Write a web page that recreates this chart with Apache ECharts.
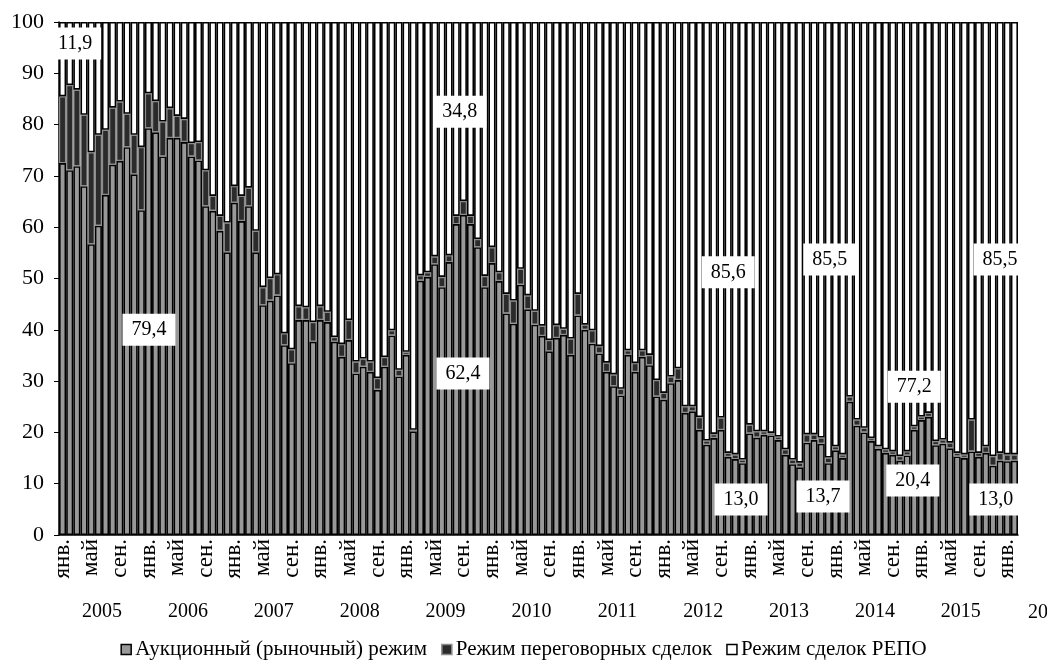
<!DOCTYPE html>
<html>
<head>
<meta charset="utf-8">
<script src="https://cdn.jsdelivr.net/npm/echarts@6/dist/echarts.min.js"></script>
<style>
  html, body { margin: 0; padding: 0; background: #fff; }
  #main { width: 1047px; height: 660px; }
</style>
</head>
<body>
<div id="main"></div>
<script>
// подписи месяцев и годов
var monthNames = ['янв.', 'фев.', 'мар.', 'апр.', 'май', 'июн.', 'июл.', 'авг.', 'сен.', 'окт.', 'ноя.', 'дек.'];
var years = ['2005', '2006', '2007', '2008', '2009', '2010', '2011', '2012', '2013', '2014', '2015', '2016'];
var monthCount = 134; // янв. 2005 - фев. 2016

// доли режимов, %
var auction = [
  72.5, 71.1, 71.9, 68.0, 56.7, 60.3, 66.3, 72.2, 72.9, 75.6, 70.3, 63.3,
  79.3, 78.5, 73.8, 77.4, 77.4, 76.6, 73.8, 73.0, 64.1, 63.2, 59.3, 55.1,
  64.8, 61.2, 64.1, 55.1, 44.8, 45.7, 46.7, 37.0, 33.5, 41.9, 41.9, 37.7,
  41.9, 41.5, 37.7, 34.7, 38.0, 31.5, 32.8, 31.8, 28.3, 32.8, 38.9, 30.9,
  35.1, 20.2, 49.6, 50.3, 52.8, 48.3, 53.2, 60.6, 62.4, 60.6, 56.1, 48.3,
  53.0, 49.5, 43.2, 41.2, 48.8, 44.0, 41.0, 38.8, 35.8, 38.4, 39.0, 35.1,
  42.8, 40.0, 37.3, 35.4, 31.8, 29.0, 27.2, 35.1, 31.8, 34.7, 33.1, 27.0,
  26.4, 29.6, 30.2, 23.8, 24.1, 20.5, 17.6, 18.9, 20.5, 15.2, 14.8, 14.0,
  19.8, 19.0, 19.5, 19.4, 18.5, 15.6, 13.8, 13.2, 18.0, 18.5, 17.8, 14.0,
  16.5, 15.0, 26.0, 21.3, 20.0, 18.3, 16.8, 16.0, 15.6, 14.5, 15.5, 20.5,
  22.4, 23.0, 17.5, 17.8, 16.9, 15.3, 15.0, 16.3, 15.2, 16.0, 13.5, 14.5,
  14.4, 14.5
];
var negotiated = [
  13.0, 16.6, 14.9, 13.9, 17.9, 17.7, 12.7, 11.1, 11.6, 6.5, 7.7, 12.3,
  6.8, 6.1, 6.8, 5.8, 4.3, 4.5, 2.6, 3.6, 7.0, 2.9, 2.9, 5.8,
  3.2, 4.9, 3.6, 4.2, 3.5, 4.4, 4.1, 2.3, 2.7, 2.7, 2.5, 3.8,
  2.7, 2.0, 0.9, 2.5, 3.9, 2.3, 1.6, 2.0, 2.3, 1.9, 1.0, 1.3,
  0.6, 0.3, 1.0, 0.9, 1.5, 2.0, 1.3, 1.6, 2.7, 1.6, 1.6, 2.2,
  3.1, 1.7, 3.8, 4.5, 3.1, 2.7, 2.7, 2.0, 2.2, 2.5, 1.2, 3.2,
  4.2, 1.0, 2.6, 1.4, 1.8, 2.3, 1.3, 0.9, 1.7, 1.3, 2.0, 3.2,
  1.3, 1.3, 2.3, 1.3, 1.0, 2.5, 0.8, 0.8, 2.4, 0.8, 0.9, 0.7,
  1.7, 1.2, 0.7, 0.5, 0.7, 1.1, 0.9, 0.9, 1.6, 1.1, 1.2, 1.1,
  0.8, 0.7, 1.0, 1.2, 0.9, 0.6, 0.5, 0.7, 0.7, 0.9, 0.8, 0.7,
  0.7, 0.8, 0.8, 0.8, 1.1, 0.7, 0.7, 6.2, 0.8, 1.3, 1.9, 1.5,
  1.3, 1.2
];
var repo = [
  14.5, 12.3, 13.2, 18.1, 25.4, 22.0, 21.0, 16.7, 15.5, 17.9, 22.0, 24.4,
  13.9, 15.4, 19.4, 16.8, 18.3, 18.9, 23.6, 23.4, 28.9, 33.9, 37.8, 39.1,
  32.0, 33.9, 32.3, 40.7, 51.7, 49.9, 49.2, 60.7, 63.8, 55.4, 55.6, 58.5,
  55.4, 56.5, 61.4, 62.8, 58.1, 66.2, 65.6, 66.2, 69.4, 65.3, 60.1, 67.8,
  64.3, 79.5, 49.4, 48.8, 45.7, 49.7, 45.5, 37.8, 34.9, 37.8, 42.3, 49.5,
  43.9, 48.8, 53.0, 54.3, 48.1, 53.3, 56.3, 59.2, 62.0, 59.1, 59.8, 61.7,
  53.0, 59.0, 60.1, 63.2, 66.4, 68.7, 71.5, 64.0, 66.5, 64.0, 64.9, 69.8,
  72.3, 69.1, 67.5, 74.9, 74.9, 77.0, 81.6, 80.3, 77.1, 84.0, 84.3, 85.3,
  78.5, 79.8, 79.8, 80.1, 80.8, 83.3, 85.3, 85.9, 80.4, 80.4, 81.0, 84.9,
  82.7, 84.3, 73.0, 77.5, 79.1, 81.1, 82.7, 83.3, 83.7, 84.6, 83.7, 78.8,
  76.9, 76.2, 81.7, 81.4, 82.0, 84.0, 84.3, 77.5, 84.0, 82.7, 84.6, 84.0,
  84.3, 84.3
];

// средние значения в рамках: [позиция по месяцам, уровень, текст]
var notes = [
  [2.24, 95.8, '11,9'],
  [12.57, 40.0, '79,4'],
  [56.0, 82.5, '34,8'],
  [56.45, 31.5, '62,4'],
  [93.5, 51.2, '85,6'],
  [95.3, 6.9, '13,0'],
  [107.7, 53.7, '85,5'],
  [106.75, 7.5, '13,7'],
  [119.5, 28.9, '77,2'],
  [119.3, 10.6, '20,4'],
  [131.5, 53.7, '85,5'],
  [130.9, 6.9, '13,0']
];

var months = [];
var yearSlots = [];
for (var i = 0; i < monthCount; i++) {
  months.push(monthNames[i % 12]);
  yearSlots.push(i % 12 === 6 ? years[Math.floor(i / 12)] : '');
}

var font = "'Times New Roman', 'Liberation Serif', serif";

var chart = echarts.init(document.getElementById('main'), null, { renderer: 'canvas' });

var option = {
  animation: false,
  textStyle: { fontFamily: font, color: '#000' },
  grid: { left: 59, right: 29, top: 22, bottom: 125 },
  legend: {
    bottom: -5,
    left: 'center',
    icon: 'rect',
    itemWidth: 10,
    itemHeight: 10,
    itemGap: 14,
    itemStyle: { borderWidth: 1.5 },
    textStyle: { fontFamily: font, fontSize: 21, color: '#000', padding: [0, 0, 0, -1] },
    data: ['Аукционный (рыночный) режим', 'Режим переговорных сделок', 'Режим сделок РЕПО']
  },
  xAxis: [
    {
      type: 'category',
      data: months,
      position: 'bottom',
      axisLine: { lineStyle: { color: '#000', width: 1.5 } },
      axisTick: { interval: 0, length: 48, lineStyle: { color: '#9a9a9a', width: 1 } },
      axisLabel: {
        interval: 3,
        rotate: 90,
        margin: 4,
        fontFamily: font,
        fontSize: 23,
        color: '#000'
      }
    },
    {
      type: 'category',
      data: yearSlots,
      position: 'bottom',
      axisLine: { show: false },
      axisTick: {
        interval: function (idx) { return idx % 12 === 0; },
        length: 92,
        lineStyle: { color: '#777', width: 1 }
      },
      axisLabel: {
        interval: function (idx) { return idx % 12 === 6; },
        margin: 67,
        fontFamily: font,
        fontSize: 20,
        color: '#000',
        padding: [0, 7, 0, 0]
      }
    },
    {
      type: 'value',
      min: 0,
      max: monthCount,
      show: false
    }
  ],
  yAxis: {
    type: 'value',
    min: 0,
    max: 100,
    interval: 10,
    axisLine: { show: true, lineStyle: { color: '#000', width: 1.5 } },
    axisTick: { show: true, length: 5, lineStyle: { color: '#000' } },
    splitLine: { show: false },
    axisLabel: { fontFamily: font, fontSize: 22, color: '#000', margin: 15 }
  },
  graphic: [
    {
      type: 'text',
      left: 1028,
      top: 603,
      style: { text: '2016', font: '20px ' + font, fill: '#000' }
    }
  ],
  series: [
    {
      name: 'Аукционный (рыночный) режим',
      type: 'bar',
      stack: 'all',
      barCategoryGap: '0%',
      data: auction,
      itemStyle: { color: '#999999', borderColor: '#000', borderWidth: 1.6 }
    },
    {
      name: 'Режим переговорных сделок',
      type: 'bar',
      stack: 'all',
      barCategoryGap: '0%',
      data: negotiated,
      itemStyle: { color: '#2b2b2b', borderColor: '#8c8c8c', borderWidth: 1.2 }
    },
    {
      name: 'Режим сделок РЕПО',
      type: 'bar',
      stack: 'all',
      barCategoryGap: '0%',
      data: repo,
      itemStyle: { color: '#ffffff', borderColor: '#000', borderWidth: 1.6 }
    },
    {
      type: 'scatter',
      xAxisIndex: 2,
      data: notes,
      symbolSize: 1,
      clip: false,
      z: 10,
      itemStyle: { color: 'rgba(0,0,0,0)', opacity: 1 },
      label: {
        show: true,
        position: 'inside',
        opacity: 1,
        formatter: function (p) { return p.value[2]; },
        backgroundColor: '#fff',
        padding: [6, 9],
        fontFamily: font,
        fontSize: 20,
        color: '#000'
      }
    }
  ]
};

chart.setOption(option);
</script>
</body>
</html>
